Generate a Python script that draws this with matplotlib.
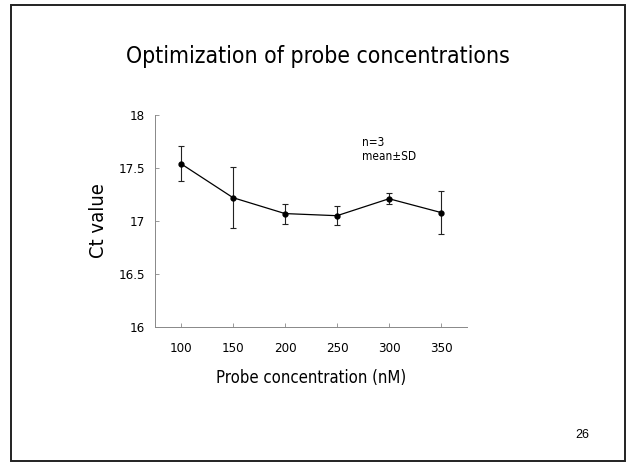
import matplotlib
matplotlib.use("Agg")
import matplotlib.pyplot as plt
from matplotlib.patches import Rectangle

conc = [100, 150, 200, 250, 300, 350]
ct_mean = [17.54, 17.22, 17.07, 17.05, 17.21, 17.08]
ct_sd = [0.165, 0.285, 0.095, 0.09, 0.05, 0.205]
yticks = [16, 16.5, 17, 17.5, 18]
ytick_labels = ["16", "16.5", "17", "17.5", "18"]

plt.rcParams['font.family'] = ['DejaVu Sans']
FS = dict(family='DejaVu Sans', stretch='condensed')

fig = plt.figure(figsize=(6.32, 4.62), dpi=100)
fig.patch.set_facecolor('white')

# slide border
fig.patches.append(Rectangle((11/632, 1/462), (625-11)/632, (457-1)/462,
                             transform=fig.transFigure, fill=False,
                             edgecolor='#222222', linewidth=1.4))

ax = fig.add_axes([155/632, 1-327/462, (467-155)/632, (327-115)/462])
ax.errorbar(conc, ct_mean, yerr=ct_sd, color='black', linewidth=0.9,
            marker='o', markersize=3.5, elinewidth=0.8, capsize=2.5,
            capthick=0.8, ecolor='#222222')
ax.set_xlim(75, 375)
ax.set_ylim(16, 18)
ax.set_xticks(conc)
ax.set_xticklabels([str(c) for c in conc], fontsize=9.5, **FS)
ax.set_yticks(yticks)
ax.set_yticklabels(ytick_labels, fontsize=9.5, **FS)
for s in ['top', 'right']:
    ax.spines[s].set_visible(False)
for s in ['left', 'bottom']:
    ax.spines[s].set_color('#888888')
    ax.spines[s].set_linewidth(0.7)
ax.tick_params(direction='in', length=3, width=0.6, color='#888888')
ax.tick_params(axis='y', pad=7)
ax.tick_params(axis='x', pad=11)

fig.text(99/632, 1-221/462, "Ct value", rotation=90, ha='center', va='center',
         fontsize=14.5, **FS)
fig.text(311/632, 1-378/462, "Probe concentration (nM)", ha='center', va='center',
         fontsize=12, **FS)

fig.text(318/632, 1-57/462, "Optimization of probe concentrations",
         ha='center', va='center', fontsize=16.5, **FS)
fig.text(362/632, 1-143/462, "n=3", ha='left', va='center', fontsize=8.5, **FS)
fig.text(362/632, 1-157/462, "mean\u00b1SD", ha='left', va='center', fontsize=8.5, **FS)
fig.text(582/632, 1-435/462, "26", ha='center', va='center', fontsize=9,
         family='Liberation Sans')

fig.savefig("out.png", dpi=100)
